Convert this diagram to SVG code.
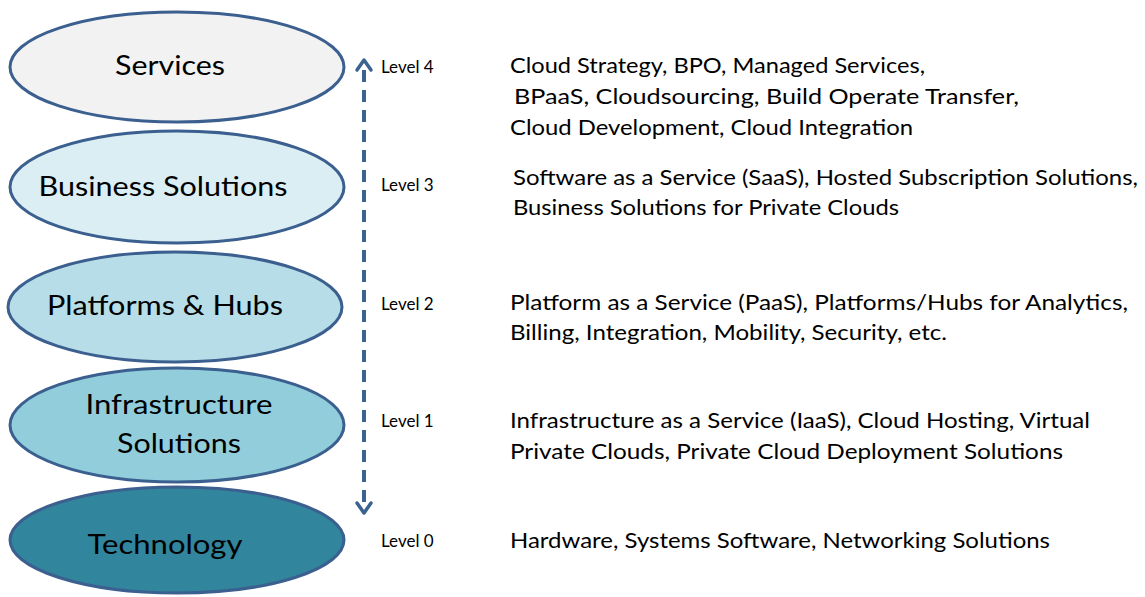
<svg xmlns="http://www.w3.org/2000/svg" width="1145" height="597" viewBox="0 0 1145 597">
<defs>
<style>
.el{stroke:#3b5f8e;stroke-width:3}
.nt{font-family:Lato,"Open Sans","Liberation Sans",sans-serif;font-size:27px;fill:#000;text-anchor:middle}
.lv{font-family:Lato,"Open Sans","Liberation Sans",sans-serif;font-size:17px;fill:#000}
.ds{font-family:Lato,"Open Sans","Liberation Sans",sans-serif;font-size:21px;fill:#000}
</style>
<marker id="ah" viewBox="0 0 10 10" refX="5" refY="2" markerWidth="4" markerHeight="4" orient="auto-start-reverse" markerUnits="userSpaceOnUse">
</marker>
</defs>
<rect width="1145" height="597" fill="#fff"/>
<g id="node-services">
<ellipse class="el" cx="177" cy="67" rx="167" ry="55" fill="#f2f2f2"/>
<text class="nt" x="170" y="75" textLength="110" lengthAdjust="spacingAndGlyphs">Services</text>
</g>
<g id="node-business">
<ellipse class="el" cx="177" cy="187" rx="167" ry="56" fill="#dbeef4"/>
<text class="nt" x="163" y="196" textLength="249" lengthAdjust="spacingAndGlyphs">Business Solutions</text>
</g>
<g id="node-platforms">
<ellipse class="el" cx="175" cy="307" rx="167" ry="55" fill="#b7dde8"/>
<text class="nt" x="165" y="315" textLength="236" lengthAdjust="spacingAndGlyphs">Platforms &amp; Hubs</text>
</g>
<g id="node-infrastructure">
<ellipse class="el" cx="177" cy="425" rx="167" ry="57" fill="#92cddc"/>
<text class="nt" x="179" y="414" textLength="187" lengthAdjust="spacingAndGlyphs">Infrastructure</text>
<text class="nt" x="179" y="453" textLength="124" lengthAdjust="spacingAndGlyphs">Solutions</text>
</g>
<g id="node-technology">
<ellipse class="el" cx="177" cy="540" rx="167" ry="53" fill="#31859c"/>
<text class="nt" x="165" y="554" textLength="155" lengthAdjust="spacingAndGlyphs">Technology</text>
</g>
<g id="connectors">
<line x1="364" y1="70" x2="364" y2="503" stroke="#3b6391" stroke-width="4" stroke-dasharray="12,8"/>
<polyline points="357,70 364,60 371,70" fill="none" stroke="#3b6391" stroke-width="3.5" stroke-linecap="round" stroke-linejoin="round"/>
<polyline points="357,503 364,513 371,503" fill="none" stroke="#3b6391" stroke-width="3.5" stroke-linecap="round" stroke-linejoin="round"/>
</g>
<g id="levels">
<text class="lv" x="381" y="73">Level 4</text>
<text class="lv" x="381" y="191">Level 3</text>
<text class="lv" x="381" y="310">Level 2</text>
<text class="lv" x="381" y="427">Level 1</text>
<text class="lv" x="381" y="547">Level 0</text>
</g>
<g id="descriptions">
<text class="ds" x="510" y="73" textLength="415" lengthAdjust="spacingAndGlyphs">Cloud Strategy, BPO, Managed Services,</text>
<text class="ds" x="514" y="104" textLength="505" lengthAdjust="spacingAndGlyphs">BPaaS, Cloudsourcing, Build Operate Transfer,</text>
<text class="ds" x="510" y="135" textLength="403" lengthAdjust="spacingAndGlyphs">Cloud Development, Cloud Integration</text>
<text class="ds" x="513" y="185" textLength="625" lengthAdjust="spacingAndGlyphs">Software as a Service (SaaS), Hosted Subscription Solutions,</text>
<text class="ds" x="513" y="215" textLength="386" lengthAdjust="spacingAndGlyphs">Business Solutions for Private Clouds</text>
<text class="ds" x="510" y="310" textLength="618" lengthAdjust="spacingAndGlyphs">Platform as a Service (PaaS),  Platforms/Hubs for Analytics,</text>
<text class="ds" x="510" y="340" textLength="437" lengthAdjust="spacingAndGlyphs">Billing, Integration, Mobility, Security, etc.</text>
<text class="ds" x="510" y="428" textLength="580" lengthAdjust="spacingAndGlyphs">Infrastructure as a Service (IaaS), Cloud Hosting, Virtual</text>
<text class="ds" x="510" y="459" textLength="553" lengthAdjust="spacingAndGlyphs">Private Clouds,  Private Cloud  Deployment Solutions</text>
<text class="ds" x="510" y="548" textLength="540" lengthAdjust="spacingAndGlyphs">Hardware, Systems Software, Networking Solutions</text>
</g>
</svg>
